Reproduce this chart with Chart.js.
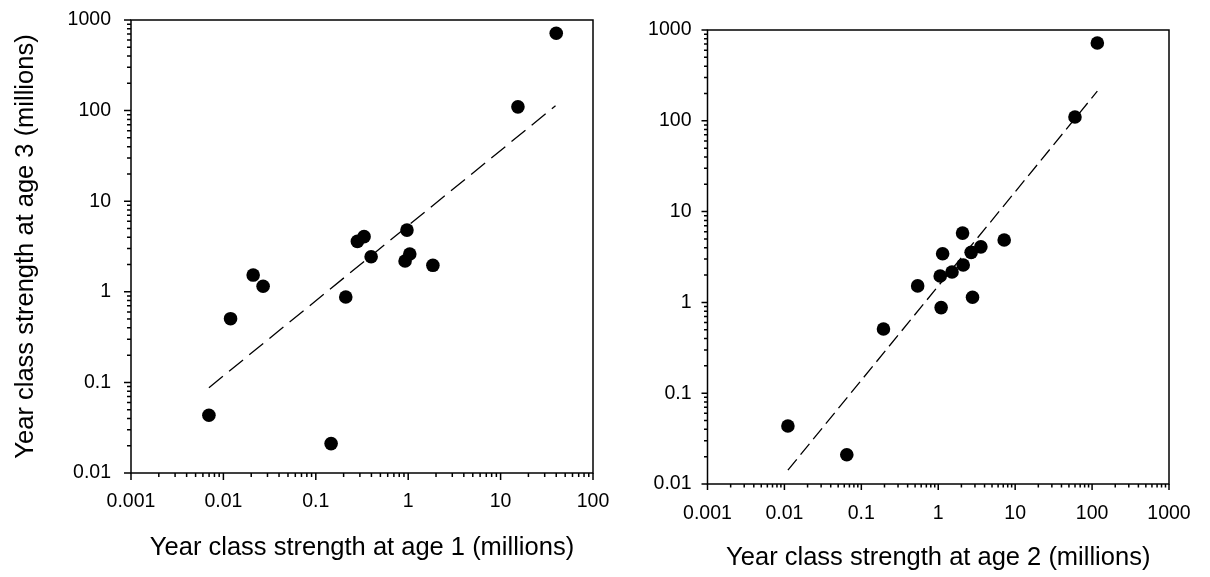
<!DOCTYPE html>
<html>
<head>
<meta charset="utf-8">
<script src="https://cdn.jsdelivr.net/npm/chart.js@4.4.1/dist/chart.umd.min.js"></script>
<style>
  html, body { margin: 0; padding: 0; background: #fff; overflow: hidden; }
  #wrap { position: relative; width: 1210px; height: 577px; }
  canvas { position: absolute; top: 0; }
  #leftChart { left: 0; }
  #rightChart { left: 610px; }
</style>
</head>
<body>
<div id="wrap">
  <canvas id="leftChart" width="610" height="577"></canvas>
  <canvas id="rightChart" width="600" height="577"></canvas>
</div>
<script>
// age 1 vs age 3
const age1X = [40, 15.4, 0.97, 0.333, 0.282, 0.397, 1.04, 0.925, 1.85, 0.021, 0.0269, 0.211, 0.01195, 0.00697, 0.1464];
const age1Y = [713, 110, 4.8, 4.06, 3.6, 2.44, 2.61, 2.19, 1.96, 1.53, 1.15, 0.877, 0.505, 0.0434, 0.0211];
const fit1X = [0.00697, 39.3];
const fit1Y = [0.0875, 113];

// age 2 vs age 3
const age2X = [117, 59.9, 2.07, 7.2, 3.58, 2.68, 1.14, 2.11, 1.51, 1.06, 0.54, 2.79, 1.09, 0.194, 0.0111, 0.0647];
const age2Y = [718, 110, 5.8, 4.87, 4.09, 3.56, 3.43, 2.58, 2.16, 1.95, 1.52, 1.14, 0.877, 0.509, 0.0435, 0.021];
const fit2X = [0.0111, 117];
const fit2Y = [0.0142, 212];

// axes
const yDecades = [0.01, 0.1, 1, 10, 100, 1000];
const yTickLabels = ['0.01', '0.1', '1', '10', '100', '1000'];
const x1Decades = [0.001, 0.01, 0.1, 1, 10, 100];
const x1TickLabels = ['0.001', '0.01', '0.1', '1', '10', '100'];
const x2Decades = [0.001, 0.01, 0.1, 1, 10, 100, 1000];
const x2TickLabels = ['0.001', '0.01', '0.1', '1', '10', '100', '1000'];

const yTitle = 'Year class strength at age 3 (millions)';
const x1Title = 'Year class strength at age 1 (millions)';
const x2Title = 'Year class strength at age 2 (millions)';

const FONT = "'Liberation Sans', Arial, sans-serif";

const toPoints = (xs, ys) => xs.map((x, i) => ({ x: x, y: ys[i] }));

// 1..9 x each decade, decades flagged major
function logTicks(decades) {
  const out = [];
  for (let i = 0; i < decades.length - 1; i++) {
    for (let m = 1; m < 10; m++) {
      out.push({ value: +(m * decades[i]).toPrecision(6), major: m === 1 });
    }
  }
  out.push({ value: decades[decades.length - 1], major: true });
  return out;
}

function labelFor(decades, labels) {
  return v => {
    const i = decades.findIndex(d => Math.abs(Math.log10(v / d)) < 1e-6);
    return i < 0 ? '' : labels[i];
  };
}

// box round the plot + outward major/minor tick marks
const frame = {
  id: 'frame',
  afterDraw(chart, args, opts) {
    const { ctx, chartArea: a, scales } = chart;
    ctx.save();
    ctx.strokeStyle = '#000';
    ctx.lineWidth = opts.lineWidth;
    ctx.strokeRect(a.left, a.top, a.right - a.left, a.bottom - a.top);
    ctx.beginPath();
    scales.x.ticks.forEach(t => {
      const px = scales.x.getPixelForValue(t.value);
      ctx.moveTo(px, a.bottom);
      ctx.lineTo(px, a.bottom + (t.major ? opts.major : opts.minor));
    });
    scales.y.ticks.forEach(t => {
      const py = scales.y.getPixelForValue(t.value);
      ctx.moveTo(a.left, py);
      ctx.lineTo(a.left - (t.major ? opts.major : opts.minor), py);
    });
    ctx.stroke();
    ctx.restore();
  }
};

function makeChart(id, s) {
  return new Chart(document.getElementById(id), {
    type: 'scatter',
    data: {
      datasets: [
        {
          data: toPoints(s.fitX, s.fitY),
          showLine: true,
          borderColor: '#000',
          borderWidth: 1.3,
          borderDash: s.dash,
          pointRadius: 0
        },
        {
          data: toPoints(s.xs, s.ys),
          backgroundColor: '#000',
          borderWidth: 0,
          pointRadius: 6.8
        }
      ]
    },
    options: {
      responsive: false,
      animation: false,
      events: [],
      layout: { autoPadding: false, padding: s.padding },
      plugins: {
        legend: { display: false },
        tooltip: { enabled: false },
        frame: { lineWidth: 1.5, major: s.major, minor: s.minor }
      },
      scales: {
        x: {
          type: 'logarithmic',
          min: s.xDecades[0],
          max: s.xDecades[s.xDecades.length - 1],
          afterBuildTicks: sc => { sc.ticks = logTicks(s.xDecades); },
          afterFit: sc => { sc.height = s.xHeight; sc.paddingLeft = 0; sc.paddingRight = 0; },
          grid: { display: false, drawTicks: false },
          border: { display: false },
          ticks: {
            autoSkip: false, maxRotation: 0, padding: s.xPad, color: '#000',
            font: { family: FONT, size: 19.5 },
            callback: labelFor(s.xDecades, s.xLabels)
          },
          title: {
            display: true, text: s.xTitle, color: '#000',
            font: { family: FONT, size: 25.5, lineHeight: 0.8 },
            padding: { top: 0, bottom: s.xTitlePad }
          }
        },
        y: {
          type: 'logarithmic',
          min: yDecades[0],
          max: yDecades[yDecades.length - 1],
          afterBuildTicks: sc => { sc.ticks = logTicks(yDecades); },
          afterFit: sc => { sc.width = s.yWidth; sc.paddingTop = 0; sc.paddingBottom = 0; },
          grid: { display: false, drawTicks: false },
          border: { display: false },
          ticks: {
            autoSkip: false, padding: s.yPad, color: '#000',
            font: { family: FONT, size: 19.5 },
            callback: labelFor(yDecades, yTickLabels)
          },
          title: {
            display: !!s.yTitle, text: s.yTitle || '', color: '#000',
            font: { family: FONT, size: 25.5, lineHeight: 0.8 },
            padding: { top: 15.8, bottom: 0 }
          }
        }
      }
    },
    plugins: [frame]
  });
}

makeChart('leftChart', {
  xs: age1X, ys: age1Y, fitX: fit1X, fitY: fit1Y, dash: [18, 8],
  xDecades: x1Decades, xLabels: x1TickLabels, xTitle: x1Title, yTitle: yTitle,
  padding: { left: 0, top: 20, right: 17, bottom: 0 },
  yWidth: 131, xHeight: 104, xPad: 17.3, yPad: 20, xTitlePad: 19.3,
  major: 7, minor: 4
});

makeChart('rightChart', {
  xs: age2X, ys: age2Y, fitX: fit2X, fitY: fit2Y, dash: [14, 6],
  xDecades: x2Decades, xLabels: x2TickLabels, xTitle: x2Title, yTitle: null,
  padding: { left: 0, top: 30, right: 41, bottom: 0 },
  yWidth: 97.5, xHeight: 93, xPad: 18.3, yPad: 16, xTitlePad: 9.1,
  major: 6, minor: 3.5
});
</script>
</body>
</html>
